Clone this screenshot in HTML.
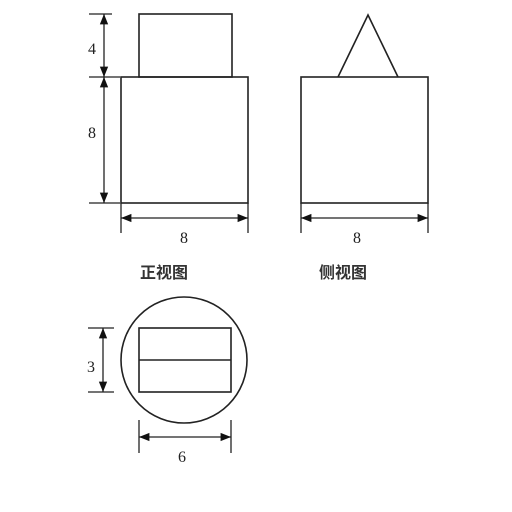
<!DOCTYPE html>
<html><head><meta charset="utf-8"><style>
html,body{margin:0;padding:0;background:#fff;width:512px;height:512px;overflow:hidden}
text{font-family:"Liberation Serif","Noto Serif CJK SC",serif;fill:#222}
.cj{font-family:"Liberation Sans","Noto Sans CJK SC",sans-serif;font-size:16px;font-weight:bold;fill:#333}
</style></head><body>
<svg width="512" height="512" viewBox="0 0 512 512">
<defs>
<marker id="ar" viewBox="0 0 10 10" refX="10" refY="5" markerWidth="8" markerHeight="8" orient="auto-start-reverse"><path d="M0,1 L10,5 L0,9 z" fill="#111"/></marker>
</defs>
<g stroke="#222" stroke-width="1.6" fill="none">
<g>
<rect x="139" y="14" width="93" height="63"/>
<rect x="121" y="77" width="127" height="126"/>
</g>
<g>
<rect x="301" y="77" width="127" height="126"/>
<polyline points="338,77 368,15 398,77"/>
</g>
<g>
<circle cx="184" cy="360" r="63"/>
<rect x="139" y="328" width="92" height="64"/>
<line x1="139" y1="360" x2="231" y2="360"/>
</g>
<g stroke-width="1.3">
<line x1="89" y1="14" x2="112" y2="14"/>
<line x1="89" y1="77" x2="120" y2="77"/>
<line x1="89" y1="203" x2="120" y2="203"/>
<line x1="104" y1="14" x2="104" y2="77" marker-start="url(#ar)" marker-end="url(#ar)"/>
<line x1="104" y1="77" x2="104" y2="203" marker-start="url(#ar)" marker-end="url(#ar)"/>
<line x1="121" y1="203" x2="121" y2="233"/>
<line x1="248" y1="203" x2="248" y2="233"/>
<line x1="121" y1="218" x2="248" y2="218" marker-start="url(#ar)" marker-end="url(#ar)"/>
<line x1="301" y1="203" x2="301" y2="233"/>
<line x1="428" y1="203" x2="428" y2="233"/>
<line x1="301" y1="218" x2="428" y2="218" marker-start="url(#ar)" marker-end="url(#ar)"/>
<line x1="88" y1="328" x2="114" y2="328"/>
<line x1="88" y1="392" x2="114" y2="392"/>
<line x1="103" y1="328" x2="103" y2="392" marker-start="url(#ar)" marker-end="url(#ar)"/>
<line x1="139" y1="420" x2="139" y2="453"/>
<line x1="231" y1="420" x2="231" y2="453"/>
<line x1="139" y1="437" x2="231" y2="437" marker-start="url(#ar)" marker-end="url(#ar)"/>
</g>
</g>
<text x="92" y="54" font-size="16" text-anchor="middle">4</text>
<text x="92" y="138" font-size="16" text-anchor="middle">8</text>
<text x="184" y="243" font-size="16" text-anchor="middle">8</text>
<text x="357" y="243" font-size="16" text-anchor="middle">8</text>
<text x="91" y="372" font-size="16" text-anchor="middle">3</text>
<text x="182" y="462" font-size="16" text-anchor="middle">6</text>
<text class="cj" x="164" y="278" text-anchor="middle">正视图</text>
<text class="cj" x="343" y="278" text-anchor="middle">侧视图</text>
</svg>
</body></html>
